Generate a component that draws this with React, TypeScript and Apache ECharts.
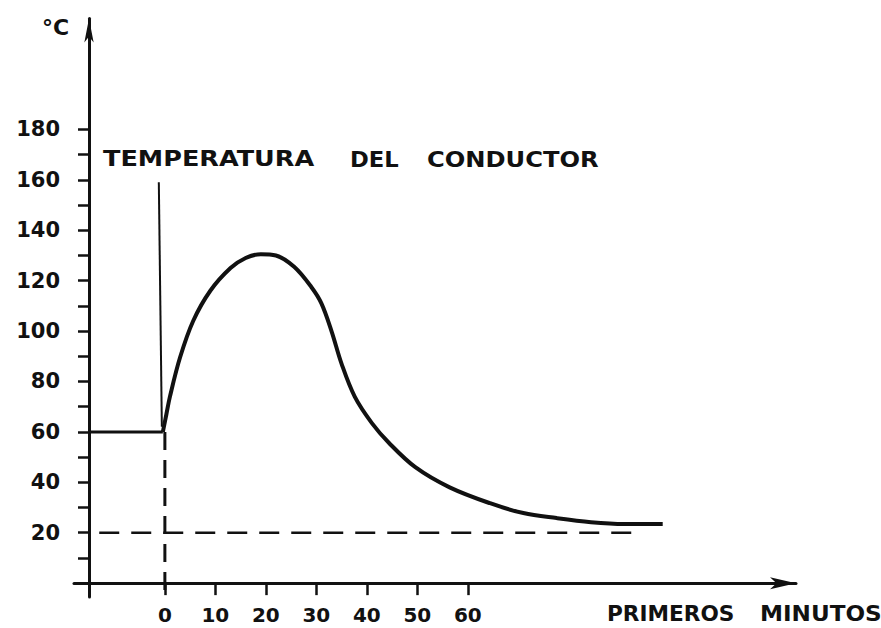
import React, { useEffect, useRef } from "react";
import * as echarts from "echarts";

// Conductor temperature curve (minutes, °C)
const minutes = [-0.4, 0.3, 1, 3, 5.6, 9, 13, 16, 19, 22, 25.6, 29, 31, 33, 35, 37.6, 41, 44.4, 49.6, 56.4, 64.4, 71, 77.6, 84.4, 91, 98.6];
const tempC = [60, 67, 74, 89.5, 104, 116, 125, 129, 130.5, 130, 125.5, 117.5, 111, 100, 87, 74, 63.5, 55.6, 46, 38, 31.7, 27.8, 25.8, 24.2, 23.5, 23.5];

// Initial steady level before time 0
const initialX = [-15, -0.4];
const initialY = [60, 60];

// Leader line from the label to the curve
const leaderX = [-1.2, -0.6];
const leaderY = [159, 62];

// Ambient reference (dashed)
const ambientX = [-13, 94.5];
const ambientY = [20, 20];

// Time-zero reference (dashed)
const zeroX = [0, 0];
const zeroY = [60, -4.5];

// Axis ticks and labels
const xTickValues = [0, 10, 20, 30, 40, 50, 60];
const yTickValues = [10, 20, 30, 40, 50, 60, 70, 80, 90, 100, 110, 120, 130, 140, 150, 160, 170, 180];
const yLabelValues = [20, 40, 60, 80, 100, 120, 140, 160, 180];

const pairs = (xs: number[], ys: number[]) => xs.map((x, i) => [x, ys[i]]);

const INK = "#111";
const FONT = "DejaVu Sans";

export default function App() {
  const ref = useRef<HTMLDivElement>(null);

  useEffect(() => {
    document.body.style.margin = "0";
    if (!ref.current) return;
    const chart = echarts.init(ref.current, null, { renderer: "svg" });
    chart.setOption({
      animation: false,
      backgroundColor: "#fff",
      grid: { left: 74, right: 85, top: 18.5, bottom: 31, containLabel: false, outerBoundsMode: "none" },
      xAxis: {
        type: "value",
        min: -18,
        max: 125,
        splitLine: { show: false },
        axisLine: {
          onZero: true,
          symbol: ["none", "arrow"],
          symbolSize: [9, 26],
          lineStyle: { color: INK, width: 3 },
        },
        axisTick: {
          customValues: xTickValues,
          length: 12,
          lineStyle: { color: INK, width: 2.5 },
        },
        axisLabel: {
          customValues: xTickValues,
          margin: 8,
          color: INK,
          fontFamily: FONT,
          fontWeight: "bold",
          fontSize: 20,
        },
      },
      yAxis: {
        type: "value",
        min: -5.5,
        max: 224,
        offset: -15,
        splitLine: { show: false },
        axisLine: {
          onZero: false,
          symbol: ["none", "arrow"],
          symbolSize: [7, 24],
          lineStyle: { color: INK, width: 3 },
        },
        axisTick: {
          customValues: yTickValues,
          length: 11,
          lineStyle: { color: INK, width: 2.5 },
        },
        axisLabel: {
          customValues: yLabelValues,
          margin: 29,
          color: INK,
          fontFamily: FONT,
          fontWeight: "bold",
          fontSize: 21,
        },
      },
      series: [
        {
          name: "Temperatura del conductor",
          type: "line",
          data: pairs(minutes, tempC),
          smooth: 0.35,
          symbol: "none",
          lineStyle: { color: INK, width: 4 },
          z: 5,
        },
        {
          type: "line",
          data: pairs(initialX, initialY),
          symbol: "none",
          lineStyle: { color: INK, width: 3 },
        },
        {
          type: "line",
          data: pairs(leaderX, leaderY),
          symbol: "none",
          lineStyle: { color: INK, width: 2 },
        },
        {
          type: "line",
          data: pairs(ambientX, ambientY),
          symbol: "none",
          lineStyle: { color: INK, width: 2.5, type: [20, 12] },
        },
        {
          type: "line",
          data: pairs(zeroX, zeroY),
          symbol: "none",
          lineStyle: { color: INK, width: 3, type: [18, 10] },
        },
      ],
      graphic: [
        {
          type: "text",
          x: 42,
          y: 16,
          style: { text: "°C", fill: INK, font: `bold 22px "${FONT}"` },
        },
        {
          type: "text",
          x: 103,
          y: 148,
          scaleX: 1.16,
          style: { text: "TEMPERATURA", fill: INK, font: `bold 22px "${FONT}"` },
        },
        {
          type: "text",
          x: 350,
          y: 148,
          scaleX: 1.03,
          style: { text: "DEL", fill: INK, font: `bold 22px "${FONT}"` },
        },
        {
          type: "text",
          x: 427,
          y: 148,
          scaleX: 1.1,
          style: { text: "CONDUCTOR", fill: INK, font: `bold 22px "${FONT}"` },
        },
        {
          type: "text",
          x: 607,
          y: 603,
          scaleX: 1.03,
          style: { text: "PRIMEROS", fill: INK, font: `bold 21px "${FONT}"` },
        },
        {
          type: "text",
          x: 760,
          y: 603,
          scaleX: 1.1,
          style: { text: "MINUTOS", fill: INK, font: `bold 21px "${FONT}"` },
        },
      ],
    });
    return () => chart.dispose();
  }, []);

  return (
    <div
      ref={ref}
      style={{ position: "fixed", left: 0, top: 0, width: 881, height: 628, background: "#fff" }}
    />
  );
}
